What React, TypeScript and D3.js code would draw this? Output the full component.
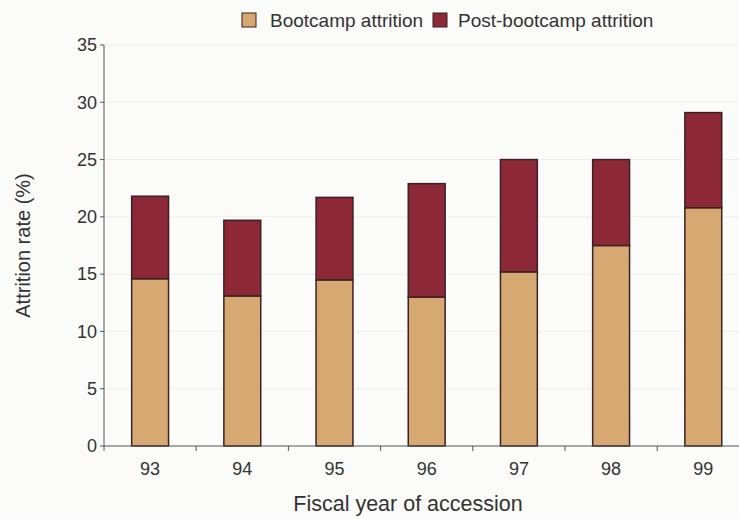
import React from "react";
import * as d3 from "d3";

const years = ["93", "94", "95", "96", "97", "98", "99"];
const bootcamp = [14.6, 13.1, 14.5, 13.0, 15.2, 17.5, 20.8];
const postBootcamp = [7.2, 6.6, 7.2, 9.9, 9.8, 7.5, 8.3];
const yTicks = [0, 5, 10, 15, 20, 25, 30, 35];
const seriesNames = ["Bootcamp attrition", "Post-bootcamp attrition"];
const colors = ["#d5a971", "#8c2838"];

const W = 739;
const H = 519;
const left = 104;
const bandW = 92.2;
const y0 = 446;
const yTop = 45;

export default function App() {
  const x = d3
    .scaleBand<string>()
    .domain(years)
    .range([left, left + bandW * years.length])
    .paddingInner(0.6)
    .paddingOuter(0.3);
  const xb = d3.scaleBand<string>().domain(years).range([left, left + bandW * years.length]);
  const y = d3.scaleLinear().domain([0, 35]).range([y0, yTop]);

  const rows = years.map((yr, i) => ({ yr, b: bootcamp[i], p: postBootcamp[i] }));
  const stack = d3.stack<any>().keys(["b", "p"])(rows);
  const font = "'Liberation Sans', Arial, Helvetica, sans-serif";
  const txt = "#333";

  return (
    <svg
      width={W}
      height={H}
      style={{ position: "absolute", left: 0, top: 0, background: "#fbfbf9" }}
      fontFamily={font}
    >
      {/* gridlines */}
      {yTicks.slice(1).map((t) => (
        <line key={"g" + t} x1={left} x2={W} y1={y(t)} y2={y(t)} stroke="#efefe9" strokeWidth={1} />
      ))}
      {/* bars */}
      {stack.map((s, si) =>
        s.map((d, i) => (
          <rect
            key={si + "-" + i}
            x={x(years[i])}
            width={x.bandwidth()}
            y={y(d[1])}
            height={y(d[0]) - y(d[1])}
            fill={colors[si]}
            stroke="#3a2222"
            strokeWidth={1.5}
          />
        ))
      )}
      {/* y axis */}
      <line x1={left} x2={left} y1={yTop} y2={y0} stroke="#555" strokeWidth={1} />
      {yTicks.map((t) => (
        <g key={"t" + t}>
          <line x1={left - 4} x2={left} y1={y(t)} y2={y(t)} stroke="#555" />
          <text x={left - 7} y={y(t)} dy="0.35em" textAnchor="end" fontSize={18} fill={txt}>
            {t}
          </text>
        </g>
      ))}
      {/* x axis */}
      <line x1={left} x2={W} y1={y0} y2={y0} stroke="#555" strokeWidth={1} />
      {years.map((yr, i) => (
        <g key={"x" + yr}>
          <line x1={xb(yr)} x2={xb(yr)} y1={y0} y2={y0 + 5} stroke="#555" />
          <text
            x={(x(yr) as number) + x.bandwidth() / 2}
            y={469}
            dy="0.35em"
            textAnchor="middle"
            fontSize={18}
            fill={txt}
          >
            {yr}
          </text>
        </g>
      ))}
      {/* axis titles */}
      <text
        transform={`translate(23, ${(y0 + yTop) / 2}) rotate(-90)`}
        textAnchor="middle"
        dy="0.35em"
        fontSize={20}
        fill={txt}
      >
        Attrition rate (%)
      </text>
      <text x={408} y={511} textAnchor="middle" fontSize={21.5} fill={txt}>
        Fiscal year of accession
      </text>
      {/* legend */}
      <rect x={242} y={13} width={14} height={14} fill={colors[0]} stroke="#3a2222" strokeWidth={1} />
      <text x={270} y={27} fontSize={19} fill={txt}>
        {seriesNames[0]}
      </text>
      <rect x={433} y={13} width={14} height={14} fill={colors[1]} stroke="#3a2222" strokeWidth={1} />
      <text x={458} y={27} fontSize={19} fill={txt}>
        {seriesNames[1]}
      </text>
    </svg>
  );
}
